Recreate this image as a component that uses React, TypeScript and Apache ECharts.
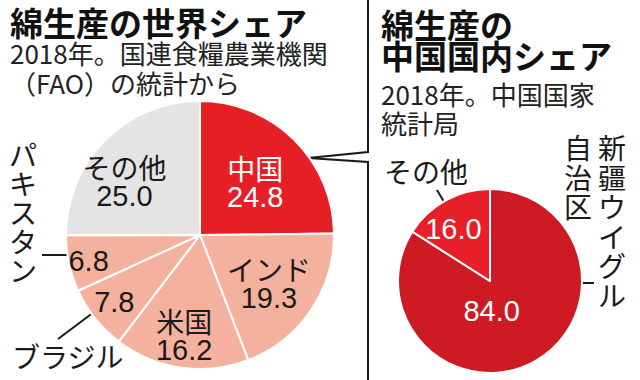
import React, { useEffect, useRef } from "react";
import * as echarts from "echarts";

const worldNames = ["中国", "インド", "米国", "ブラジル", "パキスタン", "その他"];
const worldShares = [24.8, 19.3, 16.2, 7.8, 6.8, 25.0];
const worldOutsideNames = ["ブラジル", "パキスタン"];

const chinaNames = ["新疆ウイグル自治区", "その他"];
const chinaShares = [84.0, 16.0];

const titleLeft = "綿生産の世界シェア";
const subLeft = ["2018年。国連食糧農業機関", "（FAO）の統計から"];
const titleRight = ["綿生産の", "中国国内シェア"];
const subRight = ["2018年。中国国家", "統計局"];

const JP = '"Noto Sans CJK JP", sans-serif';
const NUM = '"Liberation Sans", Arial, sans-serif';

const worldColors = ["#e61f27", "#f4b19e", "#f4b19e", "#f4b19e", "#f4b19e", "#e4e4e4"];
const worldTextColors = ["#fff", "#1a1a1a", "#1a1a1a", "#1a1a1a", "#1a1a1a", "#1a1a1a"];
const worldLabelShift = [[6, -3], [11, 9], [-6, 31], [-31, 23], [-43, 11], [-26, -4]];

const chinaColors = ["#cd1a23", "#e61f28"];
const chinaLabelShift = [[-22, -13], [-13, -9]];

export default function App() {
  const ref = useRef<HTMLDivElement>(null);
  useEffect(() => {
    if (!ref.current) return;
    const chart = echarts.init(ref.current, null, { renderer: "svg" });

    const verticalTexts = (s: string, cx: number, y0: number, step: number) =>
      s.split("").map((ch, i) => ({
        type: "text",
        x: cx,
        y: y0 + i * step,
        style: { text: ch, font: `28px ${JP}`, fill: "#1a1a1a", align: "center", verticalAlign: "middle" },
      }));

    const option: any = {
      animation: false,
      backgroundColor: "#ffffff",
      series: [
        {
          type: "pie",
          center: [200, 235],
          radius: 134,
          startAngle: 90,
          clockwise: true,
          avoidLabelOverlap: false,
          itemStyle: { borderColor: "#ffffff", borderWidth: 2 },
          emphasis: { disabled: true },
          label: { show: true, position: "inside", rotate: 0 },
          labelLine: { show: false },
          labelLayout: (p: any) => ({ dx: worldLabelShift[p.dataIndex][0], dy: worldLabelShift[p.dataIndex][1] }),
          data: worldNames.map((n, i) => ({
            name: n,
            value: worldShares[i],
            itemStyle: { color: worldColors[i] },
            label: {
              formatter: worldOutsideNames.includes(n)
                ? `{v|${worldShares[i].toFixed(1)}}`
                : `{n|${n}}\n{v|${worldShares[i].toFixed(1)}}`,
              rich: {
                n: { fontFamily: JP, fontSize: 28, color: worldTextColors[i], lineHeight: 29 },
                v: { fontFamily: NUM, fontSize: 29, color: worldTextColors[i], lineHeight: 29 },
              },
            },
          })),
        },
        {
          type: "pie",
          center: [490, 281],
          radius: 92,
          startAngle: 90,
          clockwise: true,
          avoidLabelOverlap: false,
          itemStyle: { borderColor: "#ffffff", borderWidth: 2 },
          emphasis: { disabled: true },
          label: { show: true, position: "inside", rotate: 0 },
          labelLine: { show: false },
          labelLayout: (p: any) => ({ dx: chinaLabelShift[p.dataIndex][0], dy: chinaLabelShift[p.dataIndex][1] }),
          data: chinaNames.map((n, i) => ({
            name: n,
            value: chinaShares[i],
            itemStyle: { color: chinaColors[i] },
            label: {
              formatter: `{v|${chinaShares[i].toFixed(1)}}`,
              rich: { v: { fontFamily: NUM, fontSize: 29, color: "#fff" } },
            },
          })),
        },
      ],
      graphic: [
        { type: "text", left: 10, top: 5, style: { text: titleLeft, font: `bold 33px ${JP}`, fill: "#111" } },
        { type: "text", left: 10, top: 39, style: { text: subLeft[0], font: `26px ${JP}`, fill: "#222" } },
        { type: "text", left: 10, top: 69, style: { text: subLeft[1], font: `26px ${JP}`, fill: "#222" } },
        { type: "text", left: 381, top: 7, style: { text: titleRight[0], font: `bold 33px ${JP}`, fill: "#111" } },
        { type: "text", left: 381, top: 38, style: { text: titleRight[1], font: `bold 33px ${JP}`, fill: "#111" } },
        { type: "text", left: 381, top: 80, style: { text: subRight[0], font: `26px ${JP}`, fill: "#222" } },
        { type: "text", left: 381, top: 109, style: { text: subRight[1], font: `26px ${JP}`, fill: "#222" } },
        {
          type: "polyline",
          shape: { points: [[368, 0], [368, 152], [308, 158], [368, 162], [368, 380]] },
          style: { stroke: "#1a1a1a", lineWidth: 2, fill: null },
        },
        ...verticalTexts("パキスタン", 23, 154, 29),
        { type: "line", shape: { x1: 42, y1: 255, x2: 73, y2: 255 }, style: { stroke: "#1a1a1a", lineWidth: 2 } },
        { type: "text", left: 12, top: 342, style: { text: "ブラジル", font: `28px ${JP}`, fill: "#1a1a1a" } },
        { type: "line", shape: { x1: 58, y1: 339, x2: 98, y2: 309 }, style: { stroke: "#1a1a1a", lineWidth: 2 } },
        { type: "text", left: 384, top: 157, style: { text: "その他", font: `28px ${JP}`, fill: "#1a1a1a" } },
        { type: "line", shape: { x1: 437, y1: 190, x2: 450, y2: 212 }, style: { stroke: "#1a1a1a", lineWidth: 2 } },
        ...verticalTexts("自治区", 578, 147, 29.5),
        ...verticalTexts("新疆ウイグル", 612, 147, 29.5),
        { type: "line", shape: { x1: 568, y1: 283, x2: 594, y2: 283 }, style: { stroke: "#1a1a1a", lineWidth: 2 } },
      ],
    };
    chart.setOption(option);
    return () => chart.dispose();
  }, []);
  return (
    <div
      ref={ref}
      style={{ position: "fixed", left: 0, top: 0, width: 640, height: 380, background: "#fff" }}
    />
  );
}
